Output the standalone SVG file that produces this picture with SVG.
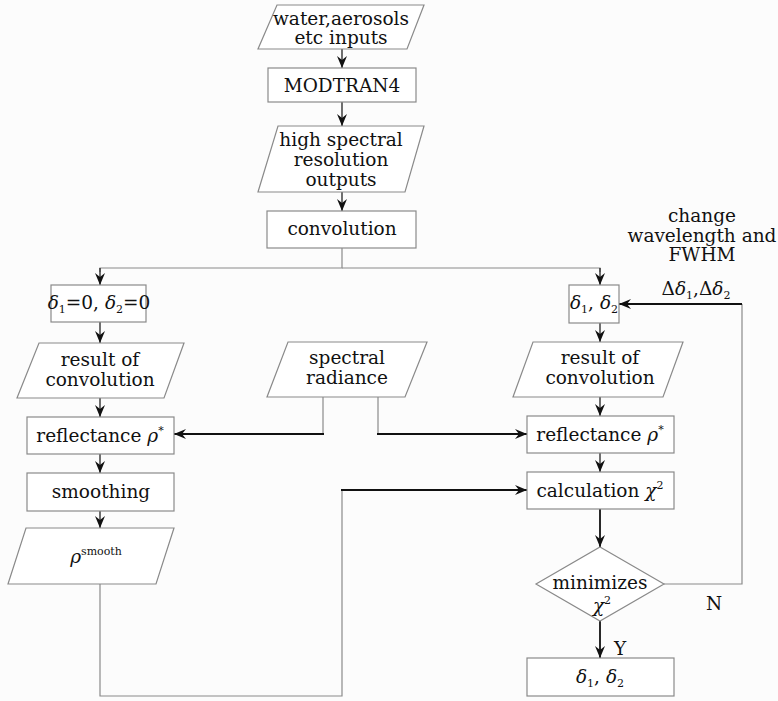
<svg xmlns="http://www.w3.org/2000/svg" width="778" height="701" viewBox="0 0 778 701">
<style>
.shape{fill:#ffffff;stroke:#8a8a8a;stroke-width:1.2}
.t{font-family:"DejaVu Serif","Liberation Serif",serif;font-size:18.5px;fill:#111;text-anchor:middle}
.m{font-style:italic}
.sub{font-size:11px}
.g{fill:none;stroke:#8a8a8a;stroke-width:1.2}
.k{fill:none;stroke:#111;stroke-width:1.8}
.a{fill:none;stroke:#222;stroke-width:1.3}
</style>
<defs>
<marker id="ah" markerUnits="userSpaceOnUse" markerWidth="12" markerHeight="10" refX="12" refY="5" orient="auto">
<path d="M0,0 L12,5 L0,10 L4,5 z" fill="#111"/>
</marker>
</defs>
<rect width="778" height="701" fill="#fcfcfc"/>

<g id="connectors">
<line class="a" x1="342" y1="49" x2="342" y2="68" marker-end="url(#ah)"/>
<line class="a" x1="342" y1="102" x2="342" y2="126" marker-end="url(#ah)"/>
<line class="a" x1="342" y1="192" x2="342" y2="211" marker-end="url(#ah)"/>
<polyline class="g" points="342,248 342,268 100,268 100,272"/>
<line class="a" x1="100" y1="268" x2="100" y2="285" marker-end="url(#ah)"/>
<polyline class="g" points="342,268 600,268 600,272"/>
<line class="a" x1="600" y1="268" x2="600" y2="285" marker-end="url(#ah)"/>
<line class="a" x1="100" y1="322" x2="100" y2="343" marker-end="url(#ah)"/>
<line class="a" x1="100" y1="398" x2="100" y2="417" marker-end="url(#ah)"/>
<line class="a" x1="100" y1="454" x2="100" y2="473" marker-end="url(#ah)"/>
<line class="a" x1="100" y1="511" x2="100" y2="528" marker-end="url(#ah)"/>
<line class="a" x1="600" y1="323" x2="600" y2="342" marker-end="url(#ah)"/>
<line class="a" x1="600" y1="397" x2="600" y2="416" marker-end="url(#ah)"/>
<line class="a" x1="600" y1="453" x2="600" y2="472" marker-end="url(#ah)"/>
<polyline class="g" points="323,397 323,434"/>
<line class="k" x1="324" y1="434" x2="174" y2="434" marker-end="url(#ah)"/>
<polyline class="g" points="378,397 378,434"/>
<line class="k" x1="377" y1="434" x2="527" y2="434" marker-end="url(#ah)"/>
<polyline class="g" points="100,584 100,696 342,696 342,490"/>
<line class="k" x1="341" y1="490" x2="527" y2="490" marker-end="url(#ah)"/>
<line class="k" x1="600" y1="509" x2="600" y2="547" marker-end="url(#ah)"/>
<polyline class="g" points="664,584 742,584 742,304"/>
<line class="k" x1="742" y1="304" x2="619" y2="304" marker-end="url(#ah)"/>
<line class="k" x1="600" y1="621" x2="600" y2="658" marker-end="url(#ah)"/>
</g>

<g id="inputs">
<polygon class="shape" points="277,5 424,5 407,49 258,49"/>
<text class="t" x="341" y="25">water,aerosols</text>
<text class="t" x="341" y="44">etc inputs</text>
</g>
<g id="modtran">
<rect class="shape" x="268" y="68" width="148" height="34"/>
<text class="t" x="342" y="92">MODTRAN4</text>
</g>
<g id="hires">
<polygon class="shape" points="278,126 424,126 405,192 258,192"/>
<text class="t" x="341" y="146">high spectral</text>
<text class="t" x="341" y="166">resolution</text>
<text class="t" x="341" y="186">outputs</text>
</g>
<g id="convolution">
<rect class="shape" x="267" y="211" width="149" height="37"/>
<text class="t" x="342" y="235">convolution</text>
</g>

<g id="init">
<rect class="shape" x="51" y="285" width="95" height="37"/>
<text class="t" x="99" y="309"><tspan class="m">δ</tspan><tspan class="sub" dy="4">1</tspan><tspan dy="-4">=0, </tspan><tspan class="m">δ</tspan><tspan class="sub" dy="4">2</tspan><tspan dy="-4">=0</tspan></text>
</g>
<g id="resultL">
<polygon class="shape" points="39,343 184,343 164,398 17,398"/>
<text class="t" x="100" y="366">result of</text>
<text class="t" x="100" y="386">convolution</text>
</g>
<g id="reflL">
<rect class="shape" x="27" y="417" width="147" height="37"/>
<text class="t" x="100" y="442">reflectance <tspan class="m">ρ</tspan><tspan class="sub" dy="-8">*</tspan></text>
</g>
<g id="smoothing">
<rect class="shape" x="27" y="473" width="147" height="38"/>
<text class="t" x="101" y="498">smoothing</text>
</g>
<g id="rhosmooth">
<polygon class="shape" points="26,528 174,528 156,584 8,584"/>
<text class="t" x="96" y="563"><tspan class="m">ρ</tspan><tspan class="sub" dy="-8">smooth</tspan></text>
</g>

<g id="radiance">
<polygon class="shape" points="288,342 427,342 405,397 267,397"/>
<text class="t" x="347" y="364">spectral</text>
<text class="t" x="347" y="384">radiance</text>
</g>

<g id="deltas">
<rect class="shape" x="569" y="285" width="50" height="38"/>
<text class="t" x="594" y="309"><tspan class="m">δ</tspan><tspan class="sub" dy="4">1</tspan><tspan dy="-4">, </tspan><tspan class="m">δ</tspan><tspan class="sub" dy="4">2</tspan></text>
</g>
<g id="resultR">
<polygon class="shape" points="533,342 683,342 663,397 513,397"/>
<text class="t" x="600" y="364">result of</text>
<text class="t" x="600" y="384">convolution</text>
</g>
<g id="reflR">
<rect class="shape" x="527" y="416" width="147" height="37"/>
<text class="t" x="600" y="441">reflectance <tspan class="m">ρ</tspan><tspan class="sub" dy="-8">*</tspan></text>
</g>
<g id="calc">
<rect class="shape" x="527" y="472" width="147" height="37"/>
<text class="t" x="600" y="497">calculation <tspan class="m">χ</tspan><tspan class="sub" dy="-8">2</tspan></text>
</g>
<g id="minimize">
<polygon class="shape" points="600,547 664,584 600,621 536,584"/>
<text class="t" x="600" y="589">minimizes</text>
<text class="t" x="602" y="612"><tspan class="m">χ</tspan><tspan class="sub" dy="-8">2</tspan></text>
</g>
<g id="final">
<rect class="shape" x="527" y="658" width="147" height="38"/>
<text class="t" x="600" y="683"><tspan class="m">δ</tspan><tspan class="sub" dy="4">1</tspan><tspan dy="-4">, </tspan><tspan class="m">δ</tspan><tspan class="sub" dy="4">2</tspan></text>
</g>

<g id="labels">
<text class="t" x="702" y="222">change</text>
<text class="t" x="702" y="242">wavelength and</text>
<text class="t" x="702" y="261">FWHM</text>
<text class="t" x="696" y="295">Δ<tspan class="m">δ</tspan><tspan class="sub" dy="4">1</tspan><tspan dy="-4">,Δ</tspan><tspan class="m">δ</tspan><tspan class="sub" dy="4">2</tspan></text>
<text class="t" x="714" y="610">N</text>
<text class="t" x="620" y="655">Y</text>
</g>
</svg>
